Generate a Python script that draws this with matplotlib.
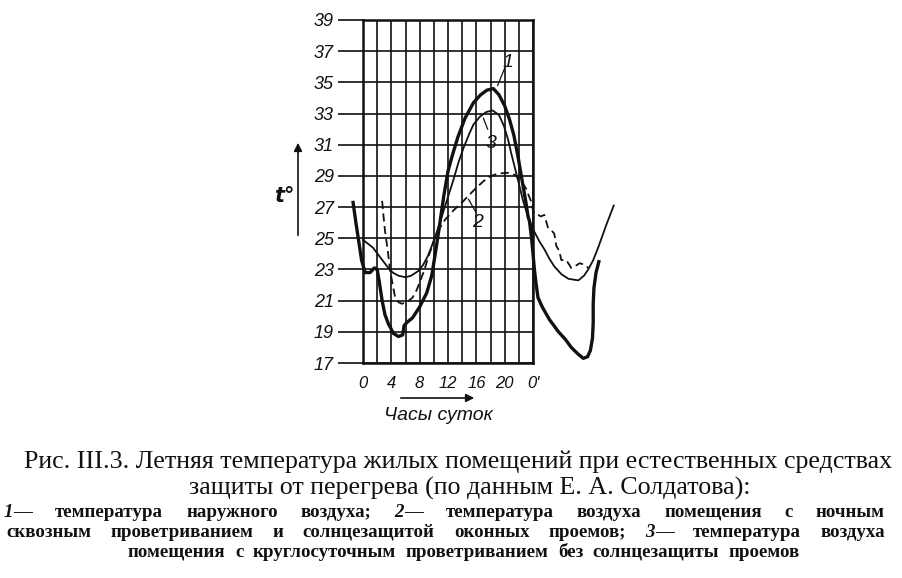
import matplotlib
matplotlib.use("Agg")
import matplotlib.pyplot as plt
from matplotlib.ticker import FixedLocator

W, H = 903, 578

# curve 1 - outside air (thick)
hours_1 = [-1.4, -1.0, -0.6, -0.2, 0.3, 1.0, 1.6, 2.0, 2.3, 2.7, 3.1, 3.6, 4.3, 5.0,
           5.6, 5.7, 5.8, 6.2, 7.0, 8.0, 9.0, 9.7, 10.2, 10.8, 11.4, 12.0, 12.6, 13.4,
           14.4, 15.6, 16.6, 17.5, 18.4, 19.2, 20.0, 20.7, 21.3, 21.9, 22.5, 23.0, 23.3,
           23.5, 23.8, 24.0, 24.2, 24.4, 24.7, 25.3, 26.3, 27.6, 28.6, 29.4, 30.3, 31.1,
           31.7, 32.1, 32.4, 32.5, 32.5, 32.6, 32.9, 33.3]
temp_1 = [27.3, 26.0, 24.8, 23.6, 22.8, 22.8, 23.1, 23.0, 22.2, 21.0, 20.1, 19.5, 18.9, 18.7,
          18.8, 19.1, 19.4, 19.6, 19.9, 20.6, 21.5, 22.6, 24.0, 25.8, 27.7, 29.3, 30.3, 31.5,
          32.7, 33.7, 34.2, 34.5, 34.6, 34.2, 33.5, 32.6, 31.6, 30.2, 28.6, 27.3, 26.4,
          26.1, 25.0, 24.0, 23.0, 22.2, 21.2, 20.6, 19.8, 19.0, 18.5, 18.0, 17.6, 17.3,
          17.4, 17.8, 18.6, 19.6, 20.8, 21.8, 22.8, 23.5]

# curve 2 - night ventilation + sun protection (dashed)
hours_2 = [2.7, 2.9, 3.1, 3.5, 3.8, 4.2, 4.5, 5.0, 5.5, 6.2, 7.0, 7.6, 8.1, 8.7, 9.2, 9.7,
           10.2, 10.9, 11.6, 12.8, 14.2, 15.9, 17.6, 19.0, 20.5, 21.5, 22.3, 23.0, 23.7,
           24.1, 24.4, 25.1, 25.6, 26.1, 26.6, 27.0, 27.3, 27.7, 28.0, 28.7, 29.4, 29.9,
           30.6, 31.3, 31.8]
temp_2 = [27.4, 26.4, 25.5, 24.2, 23.0, 22.0, 21.3, 20.9, 20.8, 20.9, 21.2, 21.7, 22.3,
          23.0, 23.8, 24.4, 25.1, 25.7, 26.2, 26.8, 27.4, 28.2, 28.9, 29.15, 29.2, 29.05,
          28.7, 28.2, 27.4, 26.6, 26.6, 26.4, 26.5, 25.7, 25.5, 25.3, 24.5, 24.2, 23.6,
          23.6, 23.1, 23.2, 23.4, 23.3, 23.1]

# curve 3 - round-the-clock ventilation (thin)
hours_3 = [0.0, 1.4, 2.4, 3.4, 4.2, 5.0, 6.0, 6.8, 7.8, 8.5, 9.2, 10.2, 11.2, 12.1, 12.8,
           13.5, 14.2, 15.0, 15.6, 16.5, 17.4, 18.3, 19.2, 19.9, 20.5, 20.9, 21.4, 21.9,
           22.6, 23.3, 24.1, 24.9, 25.6, 26.3, 27.0, 28.0, 29.0, 30.4, 31.2, 31.8, 32.5,
           33.2, 34.3, 35.4]
temp_3 = [24.9, 24.4, 23.8, 23.2, 22.8, 22.6, 22.5, 22.6, 22.9, 23.3, 23.9, 25.1, 26.5,
          27.8, 28.8, 29.9, 30.8, 31.7, 32.3, 32.8, 33.1, 33.2, 32.9, 32.2, 31.3, 30.5,
          29.6, 28.7, 27.4, 26.4, 25.5, 24.8, 24.3, 23.7, 23.2, 22.7, 22.4, 22.3, 22.6,
          23.0, 23.6, 24.4, 25.8, 27.1]

y_ticks = list(range(17, 40, 2))
x_grid = list(range(0, 25, 2))
x_tick_pos = [0, 4, 8, 12, 16, 20, 24]
x_tick_labels = ["0", "4", "8", "12", "16", "20", "0'"]

title_lines = [
    "Рис. III.3. Летняя температура жилых помещений при естественных средствах",
    "защиты от перегрева (по данным Е. А. Солдатова):",
]
legend_lines = [
    "1— температура наружного воздуха; 2— температура воздуха помещения с ночным",
    "сквозным проветриванием и солнцезащитой оконных проемов; 3— температура воздуха",
    "помещения с круглосуточным проветриванием без солнцезащиты проемов",
]

INK = "#111111"
SERIF = dict(family="Liberation Serif", weight="normal")
BOLD_SERIF = dict(family="Liberation Serif", weight="bold")
NARROW = ["Liberation Sans Narrow", "Liberation Sans", "DejaVu Sans"]


def fx(px):
    return px / W


def fy(py):
    return 1 - py / H


fig = plt.figure(figsize=(W / 100, H / 100), dpi=100)
ax = fig.add_axes([fx(363), fy(363), fx(533) - fx(363), fy(20) - fy(363)])
ax.set_xlim(0, 24)
ax.set_ylim(17, 39)

ax.xaxis.set_major_locator(FixedLocator(x_tick_pos))
ax.xaxis.set_minor_locator(FixedLocator(x_grid))
ax.set_xticklabels(x_tick_labels)
ax.set_yticks(y_ticks)
ax.set_yticklabels([str(v) for v in y_ticks])
ax.grid(True, which="both", color=INK, lw=1.2)
ax.set_axisbelow(True)
ax.tick_params(axis="x", which="both", length=0, pad=9, labelsize=12, colors=INK)
ax.tick_params(axis="y", length=18, width=1.2, pad=3, labelsize=13, colors=INK)
for lab in ax.get_xticklabels() + ax.get_yticklabels():
    lab.set_fontstyle("italic")
    lab.set_family(NARROW)
for sp in ax.spines.values():
    sp.set_linewidth(1.8)
    sp.set_color(INK)

ax.plot(hours_1, temp_1, color=INK, lw=2.4, clip_on=False, solid_joinstyle="round")
ax.plot(hours_3, temp_3, color=INK, lw=1.3, clip_on=False)
ax.plot(hours_2, temp_2, color=INK, lw=1.3, ls=(0, (4.5, 2.5)), clip_on=False)

# curve numbers with leaders
for (x0, y0, x1, y1, tx, ty, s) in [(19.0, 34.8, 20.0, 35.9, 20.5, 36.3, "1"),
                                     (17.0, 32.7, 17.6, 32.0, 18.0, 31.1, "3"),
                                     (14.9, 27.5, 15.9, 26.7, 16.2, 26.0, "2")]:
    ax.plot([x0, x1], [y0, y1], color=INK, lw=0.9, clip_on=False)
    ax.text(tx, ty, s, fontsize=14, style="italic", color=INK, ha="center", va="center",
            family=NARROW)

# axis captions and arrows
fig.text(fx(284), fy(196), "t°", fontsize=15, style="italic", weight="bold", color=INK,
         ha="center", va="center")
ax.annotate("", xy=(fx(298), fy(140)), xytext=(fx(298), fy(238)),
            xycoords="figure fraction", textcoords="figure fraction",
            arrowprops=dict(arrowstyle="-|>", color=INK, lw=1.2, mutation_scale=12))
ax.annotate("", xy=(fx(477), fy(398)), xytext=(fx(398), fy(398)),
            xycoords="figure fraction", textcoords="figure fraction",
            arrowprops=dict(arrowstyle="-|>", color=INK, lw=1.2, mutation_scale=12))
fig.text(fx(438), fy(416), "Часы суток", fontsize=14, style="italic", color=INK,
         ha="center", va="center", family=NARROW)

renderer = fig.canvas.get_renderer()


def fit_size(text, width, base, props):
    t = fig.text(0, 0, text, fontsize=base, **props)
    w = t.get_window_extent(renderer).width
    t.remove()
    return base * width / w


# caption title, centered
ts = fit_size(title_lines[0], 873, 14, SERIF)
fig.text(fx(458), fy(462), title_lines[0], fontsize=ts, color=INK, ha="center", va="center", **SERIF)
fig.text(fx(470), fy(488), title_lines[1], fontsize=ts, color=INK, ha="center", va="center", **SERIF)


def draw_words(words, x0, x1, y, size):
    # place words so that the line runs exactly from x0 to x1
    items = []
    total = 0.0
    for wd in words:
        parts = []
        if wd[0].isdigit():
            parts.append((wd[0], dict(style="italic")))
            if len(wd) > 1:
                parts.append((wd[1:], {}))
        else:
            parts.append((wd, {}))
        objs = []
        wsum = 0.0
        for s, extra in parts:
            t = fig.text(0, fy(y), s, fontsize=size, color=INK, va="baseline", **BOLD_SERIF, **extra)
            w = t.get_window_extent(renderer).width
            objs.append((t, w))
            wsum += w
        items.append((objs, wsum))
        total += wsum
    gap = (x1 - x0 - total) / max(len(items) - 1, 1)
    x = x0
    for objs, wsum in items:
        for t, w in objs:
            t.set_x(fx(x))
            x += w
        x += gap


ls = fit_size(legend_lines[2], 640, 11, BOLD_SERIF)
draw_words(legend_lines[0].split(), 4, 885, 517, ls)
draw_words(legend_lines[1].split(), 6, 885, 537, ls)
draw_words(legend_lines[2].split(), 128, 800, 557, ls)

fig.savefig("out.png", dpi=100, facecolor="white")
